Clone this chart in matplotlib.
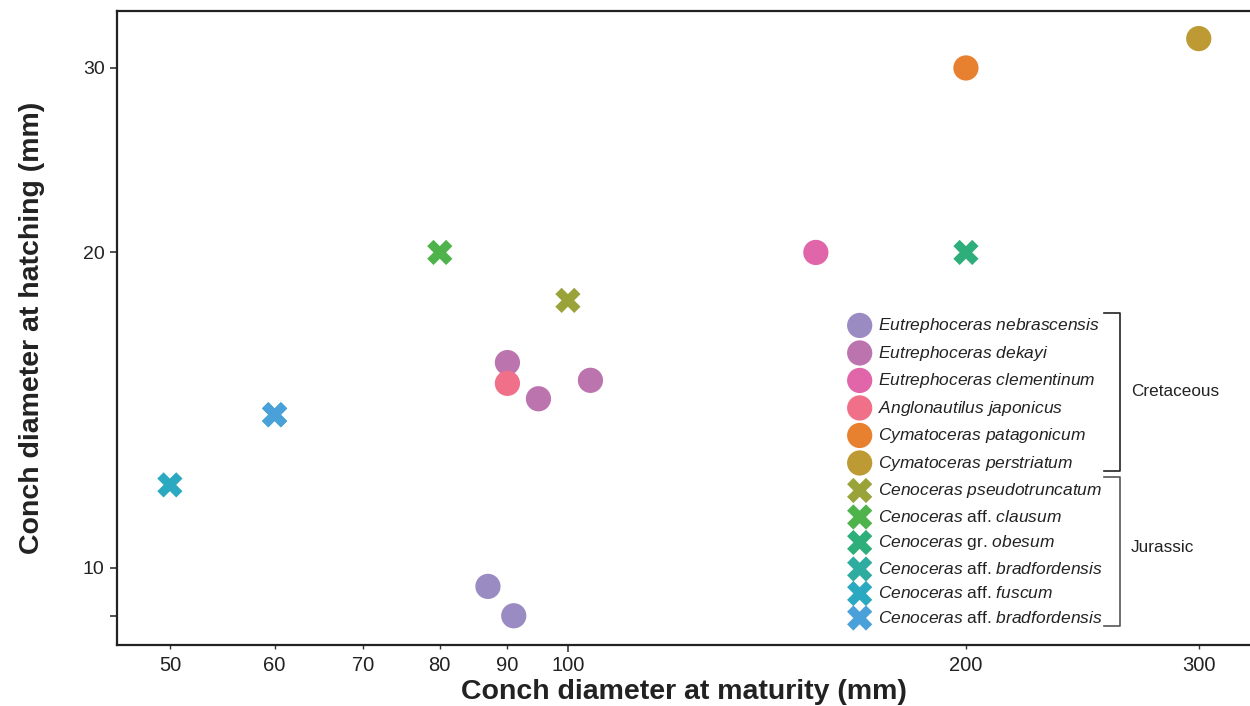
import matplotlib
matplotlib.use("Agg")
import matplotlib.pyplot as plt
from matplotlib import font_manager
from matplotlib.lines import Line2D
from matplotlib.ticker import FixedLocator, NullLocator, FixedFormatter

names = {f.name for f in font_manager.fontManager.ttflist}
NARROW = "Liberation Sans Narrow" if "Liberation Sans Narrow" in names else "Liberation Sans"
plt.rcParams["font.family"] = ["Liberation Sans", "DejaVu Sans"]
plt.rcParams["mathtext.fontset"] = "custom"
plt.rcParams["mathtext.it"] = "Liberation Sans:italic"
plt.rcParams["mathtext.rm"] = "Liberation Sans"

# ---- data ----
species = [
    r"$Eutrephoceras$ $nebrascensis$",
    r"$Eutrephoceras$ $dekayi$",
    r"$Eutrephoceras$ $clementinum$",
    r"$Anglonautilus$ $japonicus$",
    r"$Cymatoceras$ $patagonicum$",
    r"$Cymatoceras$ $perstriatum$",
    r"$Cenoceras$ $pseudotruncatum$",
    r"$Cenoceras$ aff. $clausum$",
    r"$Cenoceras$ gr. $obesum$",
    r"$Cenoceras$ aff. $bradfordensis$",
    r"$Cenoceras$ aff. $fuscum$",
    r"$Cenoceras$ aff. $bradfordensis$",
]
maturity = [
    [87, 91],
    [90, 95, 104],
    [154],
    [90],
    [200],
    [300],
    [100],
    [80],
    [200],
    [60],
    [50],
    [60],
]
hatching = [
    [9.6, 9.0],
    [15.7, 14.5, 15.1],
    [20],
    [15.0],
    [30],
    [32],
    [18],
    [20],
    [20],
    [14],
    [12],
    [14],
]
markers = ["o"] * 6 + ["X"] * 6
colors = ["#9B8BC3", "#BC74AF", "#E066A9", "#F06F89", "#E8812F", "#BD9A34",
          "#99A33A", "#4DB34A", "#2DAE7A", "#2EAC9F", "#2AA9C1", "#4AA0D9"]
xticks_major = [100]
xticks_minor = [50, 60, 70, 80, 90, 200, 300]
yticks = [9, 10, 20, 30]
ytick_labels = ["", "10", "20", "30"]
groups = ["Cretaceous", "Jurassic"]

W, H = 1250, 706
fig = plt.figure(figsize=(W / 100, H / 100), dpi=100)
ax = fig.add_axes([117 / W, 1 - 645 / H, 1 - 117 / W, (645 - 11) / H])

for sp, xs, ys, m, c in zip(species, maturity, hatching, markers, colors):
    ax.scatter(xs, ys, s=330, marker=m, color=c, edgecolors="none", label=sp, zorder=3)

ax.set_xscale("log")
ax.set_yscale("log")
ax.set_xlim(45.6, 328)
ax.set_ylim(8.44, 34.0)

ax.xaxis.set_major_locator(FixedLocator(xticks_major))
ax.xaxis.set_major_formatter(FixedFormatter([str(v) for v in xticks_major]))
ax.xaxis.set_minor_locator(FixedLocator(xticks_minor))
ax.xaxis.set_minor_formatter(FixedFormatter([str(v) for v in xticks_minor]))
ax.yaxis.set_major_locator(FixedLocator(yticks))
ax.yaxis.set_major_formatter(FixedFormatter(ytick_labels))
ax.yaxis.set_minor_locator(NullLocator())

for lab in ax.get_xticklabels(which="both"):
    lab.set_fontfamily(NARROW)
ax.tick_params(axis="x", which="major", length=5, width=1.2, color="#333333", pad=3,
               labelcolor="#222222", labelsize=14.5)
ax.tick_params(axis="x", which="minor", length=3, width=1, color="#333333", pad=5,
               labelcolor="#222222", labelsize=14.5)
ax.tick_params(axis="y", length=5, width=1.2, color="#333333", pad=4,
               labelcolor="#222222", labelsize=14)

for side in ["left", "top", "bottom"]:
    ax.spines[side].set_linewidth(1.6)
    ax.spines[side].set_color("#222222")
ax.spines["right"].set_visible(False)

ax.set_xlabel("Conch diameter at maturity (mm)", fontsize=20.5, fontweight="bold",
              fontfamily=NARROW, labelpad=3, color="#222222")
ax.set_ylabel("Conch diameter at hatching (mm)", fontsize=20.5, fontweight="bold",
              fontfamily=NARROW, labelpad=27, color="#222222")

leg = ax.legend(loc="upper left", bbox_to_anchor=(851 / W, 1 - 316 / H),
                bbox_transform=fig.transFigure, frameon=False, fontsize=12.5,
                borderaxespad=0, borderpad=0, handlelength=1.0, handletextpad=0.55,
                labelspacing=0.49, scatterpoints=1)
for t in leg.get_texts():
    t.set_color("#222222")

# group brackets
def bracket(y0, y1, color):
    xs = [1104 / W, 1120 / W, 1120 / W, 1104 / W]
    ys = [1 - y0 / H, 1 - y0 / H, 1 - y1 / H, 1 - y1 / H]
    fig.add_artist(Line2D(xs, ys, color=color, lw=1.2, transform=fig.transFigure))

bracket(313, 471, "#222222")
bracket(477, 626, "#555555")
fig.text(1131 / W, 1 - 392 / H, groups[0], fontsize=12.3, va="center", ha="left", color="#222222")
fig.text(1131 / W, 1 - 548 / H, groups[1], fontsize=12.3, va="center", ha="left", color="#222222")

fig.savefig("out.png", dpi=100)
